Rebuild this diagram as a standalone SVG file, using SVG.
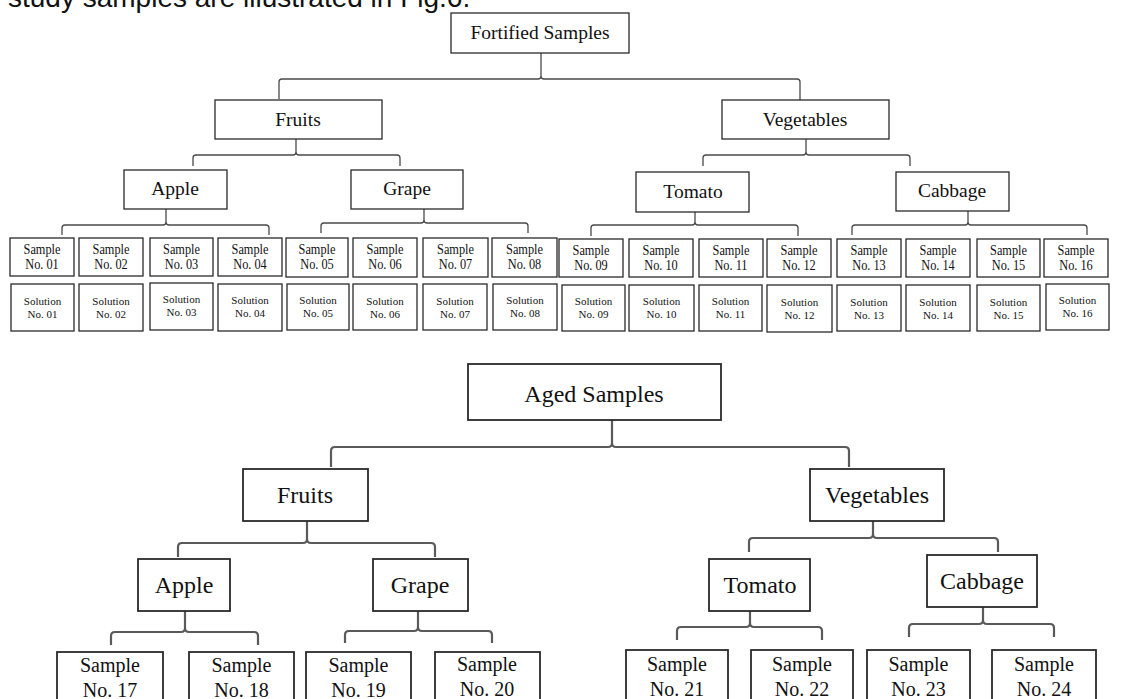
<svg xmlns="http://www.w3.org/2000/svg" width="1136" height="699" viewBox="0 0 1136 699">
<style>
.bg{fill:#fff}
.b1{fill:#fff;stroke:#2a2a2a;stroke-width:1.3}
.b2{fill:#fff;stroke:#2a2a2a;stroke-width:1.8}
.c1{fill:none;stroke:#4a4a4a;stroke-width:1.3}
.c2{fill:none;stroke:#5a5a5a;stroke-width:2.2}
text{font-family:"Liberation Serif","Times New Roman",serif;fill:#111;text-anchor:middle}
.cap{font-family:"Liberation Sans",Arial,sans-serif;font-size:28px;text-anchor:start}
.t1{font-size:19.5px}
.t2{font-size:24px}
.s1{font-size:14.5px}
.so{font-size:11px}
.s2{font-size:20px}
</style>
<rect class="bg" x="0" y="0" width="1136" height="699"/>
<text class="cap" x="8" y="7">study samples are illustrated in Fig.6.</text>

<g id="connectors">
<path class="c1" d="M279 99 V82 Q279 79 282 79 H538 Q541 79 541 76 V53 M541 76 Q541 79 544 79 H797 Q800 79 800 82 V100"/>
<path class="c1" d="M193 166 V158 Q193 155 196 155 H293 Q296 155 296 152 V139 M296 152 Q296 155 299 155 H397 Q400 155 400 158 V166"/>
<path class="c1" d="M703 166 V158 Q703 155 706 155 H803 Q806 155 806 152 V139 M806 152 Q806 155 809 155 H907 Q910 155 910 158 V166"/>
<path class="c1" d="M62 235 V228 Q62 225 65 225 H163 Q166 225 166 222 V209 M166 222 Q166 225 169 225 H266 Q269 225 269 228 V235"/>
<path class="c1" d="M321 233 V226 Q321 223 324 223 H421 Q424 223 424 220 V209 M424 220 Q424 223 427 223 H525 Q528 223 528 226 V233"/>
<path class="c1" d="M591 236 V228 Q591 225 594 225 H692 Q695 225 695 222 V212 M695 222 Q695 225 698 225 H795 Q798 225 798 228 V236"/>
<path class="c1" d="M852 235 V228 Q852 225 855 225 H965 Q968 225 968 222 V211 M968 222 Q968 225 971 225 H1084 Q1087 225 1087 228 V235"/>
<path class="c2" d="M331 467 V451 Q331 447 335 447 H608 Q612 447 612 443 V420 M612 443 Q612 447 616 447 H845 Q849 447 849 451 V467"/>
<path class="c2" d="M178 557 V547 Q178 543 182 543 H303 Q307 543 307 539 V521 M307 539 Q307 543 311 543 H431 Q435 543 435 547 V557"/>
<path class="c2" d="M749 552 V542 Q749 538 753 538 H869 Q873 538 873 534 V521 M873 534 Q873 538 877 538 H994 Q998 538 998 542 V552"/>
<path class="c2" d="M111 645 V636 Q111 632 115 632 H181 Q185 632 185 628 V611 M185 628 Q185 632 189 632 H254 Q258 632 258 636 V645"/>
<path class="c2" d="M345 643 V635 Q345 631 349 631 H414 Q418 631 418 627 V611 M418 627 Q418 631 422 631 H488 Q492 631 492 635 V643"/>
<path class="c2" d="M677 640 V631 Q677 627 681 627 H746 Q750 627 750 623 V611 M750 623 Q750 627 754 627 H818 Q822 627 822 631 V640"/>
<path class="c2" d="M909 637 V628 Q909 624 913 624 H979 Q983 624 983 620 V607 M983 620 Q983 624 987 624 H1050 Q1054 624 1054 628 V637"/>
</g>

<g id="fortified"><rect class="b1" x="451" y="13" width="178" height="40"/><text class="t1" x="540" y="39">Fortified Samples</text></g>
<g id="f-fruits"><rect class="b1" x="215" y="100" width="167" height="39"/><text class="t1" x="298" y="126">Fruits</text></g>
<g id="f-vegetables"><rect class="b1" x="722" y="100" width="167" height="39"/><text class="t1" x="805" y="126">Vegetables</text></g>
<g id="f-apple"><rect class="b1" x="124" y="170" width="103" height="39"/><text class="t1" x="175" y="195">Apple</text></g>
<g id="f-grape"><rect class="b1" x="351" y="170" width="112" height="39"/><text class="t1" x="407" y="195">Grape</text></g>
<g id="f-tomato"><rect class="b1" x="636" y="172" width="113" height="40"/><text class="t1" x="693" y="198">Tomato</text></g>
<g id="f-cabbage"><rect class="b1" x="896" y="172" width="113" height="39"/><text class="t1" x="952" y="197">Cabbage</text></g>

<g id="sample01"><rect class="b1" x="10" y="238" width="64" height="38"/><text class="s1" transform="translate(42 0) scale(0.85 1)"><tspan x="0" y="254">Sample</tspan><tspan x="0" y="269">No. 01</tspan></text></g>
<g id="sample02"><rect class="b1" x="79" y="238" width="64" height="38"/><text class="s1" transform="translate(111 0) scale(0.85 1)"><tspan x="0" y="254">Sample</tspan><tspan x="0" y="269">No. 02</tspan></text></g>
<g id="sample03"><rect class="b1" x="150" y="238" width="63" height="38"/><text class="s1" transform="translate(181.5 0) scale(0.85 1)"><tspan x="0" y="254">Sample</tspan><tspan x="0" y="269">No. 03</tspan></text></g>
<g id="sample04"><rect class="b1" x="218" y="238" width="64" height="38"/><text class="s1" transform="translate(250 0) scale(0.85 1)"><tspan x="0" y="254">Sample</tspan><tspan x="0" y="269">No. 04</tspan></text></g>
<g id="sample05"><rect class="b1" x="286" y="238" width="62" height="39"/><text class="s1" transform="translate(317 0) scale(0.85 1)"><tspan x="0" y="254">Sample</tspan><tspan x="0" y="269">No. 05</tspan></text></g>
<g id="sample06"><rect class="b1" x="353" y="238" width="64" height="39"/><text class="s1" transform="translate(385 0) scale(0.85 1)"><tspan x="0" y="254">Sample</tspan><tspan x="0" y="269">No. 06</tspan></text></g>
<g id="sample07"><rect class="b1" x="423" y="238" width="65" height="39"/><text class="s1" transform="translate(455.5 0) scale(0.85 1)"><tspan x="0" y="254">Sample</tspan><tspan x="0" y="269">No. 07</tspan></text></g>
<g id="sample08"><rect class="b1" x="492" y="238" width="65" height="39"/><text class="s1" transform="translate(524.5 0) scale(0.85 1)"><tspan x="0" y="254">Sample</tspan><tspan x="0" y="269">No. 08</tspan></text></g>
<g id="sample09"><rect class="b1" x="559" y="239" width="64" height="38"/><text class="s1" transform="translate(591 0) scale(0.85 1)"><tspan x="0" y="255">Sample</tspan><tspan x="0" y="270">No. 09</tspan></text></g>
<g id="sample10"><rect class="b1" x="629" y="239" width="64" height="38"/><text class="s1" transform="translate(661 0) scale(0.85 1)"><tspan x="0" y="255">Sample</tspan><tspan x="0" y="270">No. 10</tspan></text></g>
<g id="sample11"><rect class="b1" x="699" y="239" width="64" height="38"/><text class="s1" transform="translate(731 0) scale(0.85 1)"><tspan x="0" y="255">Sample</tspan><tspan x="0" y="270">No. 11</tspan></text></g>
<g id="sample12"><rect class="b1" x="767" y="239" width="64" height="38"/><text class="s1" transform="translate(799 0) scale(0.85 1)"><tspan x="0" y="255">Sample</tspan><tspan x="0" y="270">No. 12</tspan></text></g>
<g id="sample13"><rect class="b1" x="837" y="239" width="64" height="38"/><text class="s1" transform="translate(869 0) scale(0.85 1)"><tspan x="0" y="255">Sample</tspan><tspan x="0" y="270">No. 13</tspan></text></g>
<g id="sample14"><rect class="b1" x="906" y="239" width="64" height="38"/><text class="s1" transform="translate(938 0) scale(0.85 1)"><tspan x="0" y="255">Sample</tspan><tspan x="0" y="270">No. 14</tspan></text></g>
<g id="sample15"><rect class="b1" x="977" y="239" width="63" height="38"/><text class="s1" transform="translate(1008.5 0) scale(0.85 1)"><tspan x="0" y="255">Sample</tspan><tspan x="0" y="270">No. 15</tspan></text></g>
<g id="sample16"><rect class="b1" x="1044" y="239" width="64" height="38"/><text class="s1" transform="translate(1076 0) scale(0.85 1)"><tspan x="0" y="255">Sample</tspan><tspan x="0" y="270">No. 16</tspan></text></g>

<g id="solution01"><rect class="b1" x="11" y="284" width="63" height="47"/><text class="so"><tspan x="42.5" y="305">Solution</tspan><tspan x="42.5" y="318">No. 01</tspan></text></g>
<g id="solution02"><rect class="b1" x="79" y="284" width="64" height="47"/><text class="so"><tspan x="111" y="305">Solution</tspan><tspan x="111" y="318">No. 02</tspan></text></g>
<g id="solution03"><rect class="b1" x="150" y="283" width="63" height="47"/><text class="so"><tspan x="181.5" y="303">Solution</tspan><tspan x="181.5" y="316">No. 03</tspan></text></g>
<g id="solution04"><rect class="b1" x="218" y="284" width="64" height="47"/><text class="so"><tspan x="250" y="304">Solution</tspan><tspan x="250" y="317">No. 04</tspan></text></g>
<g id="solution05"><rect class="b1" x="287" y="284" width="62" height="46"/><text class="so"><tspan x="318" y="304">Solution</tspan><tspan x="318" y="317">No. 05</tspan></text></g>
<g id="solution06"><rect class="b1" x="353" y="284" width="64" height="46"/><text class="so"><tspan x="385" y="305">Solution</tspan><tspan x="385" y="318">No. 06</tspan></text></g>
<g id="solution07"><rect class="b1" x="423" y="284" width="64" height="46"/><text class="so"><tspan x="455" y="305">Solution</tspan><tspan x="455" y="318">No. 07</tspan></text></g>
<g id="solution08"><rect class="b1" x="493" y="284" width="64" height="46"/><text class="so"><tspan x="525" y="304">Solution</tspan><tspan x="525" y="317">No. 08</tspan></text></g>
<g id="solution09"><rect class="b1" x="562" y="285" width="63" height="46"/><text class="so"><tspan x="593.5" y="305">Solution</tspan><tspan x="593.5" y="318">No. 09</tspan></text></g>
<g id="solution10"><rect class="b1" x="629" y="285" width="65" height="46"/><text class="so"><tspan x="661.5" y="305">Solution</tspan><tspan x="661.5" y="318">No. 10</tspan></text></g>
<g id="solution11"><rect class="b1" x="699" y="285" width="63" height="46"/><text class="so"><tspan x="730.5" y="305">Solution</tspan><tspan x="730.5" y="318">No. 11</tspan></text></g>
<g id="solution12"><rect class="b1" x="767" y="285" width="65" height="47"/><text class="so"><tspan x="799.5" y="306">Solution</tspan><tspan x="799.5" y="319">No. 12</tspan></text></g>
<g id="solution13"><rect class="b1" x="837" y="285" width="64" height="46"/><text class="so"><tspan x="869" y="306">Solution</tspan><tspan x="869" y="319">No. 13</tspan></text></g>
<g id="solution14"><rect class="b1" x="906" y="285" width="64" height="46"/><text class="so"><tspan x="938" y="306">Solution</tspan><tspan x="938" y="319">No. 14</tspan></text></g>
<g id="solution15"><rect class="b1" x="977" y="285" width="63" height="46"/><text class="so"><tspan x="1008.5" y="306">Solution</tspan><tspan x="1008.5" y="319">No. 15</tspan></text></g>
<g id="solution16"><rect class="b1" x="1046" y="284" width="63" height="46"/><text class="so"><tspan x="1077.5" y="304">Solution</tspan><tspan x="1077.5" y="317">No. 16</tspan></text></g>

<g id="aged"><rect class="b2" x="468" y="364" width="253" height="56"/><text class="t2" x="594" y="402">Aged Samples</text></g>
<g id="a-fruits"><rect class="b2" x="243" y="469" width="125" height="52"/><text class="t2" x="305" y="503">Fruits</text></g>
<g id="a-vegetables"><rect class="b2" x="810" y="469" width="134" height="52"/><text class="t2" x="877" y="503">Vegetables</text></g>
<g id="a-apple"><rect class="b2" x="138" y="559" width="92" height="52"/><text class="t2" x="184" y="593">Apple</text></g>
<g id="a-grape"><rect class="b2" x="373" y="559" width="95" height="52"/><text class="t2" x="420" y="593">Grape</text></g>
<g id="a-tomato"><rect class="b2" x="709" y="559" width="101" height="52"/><text class="t2" x="760" y="593">Tomato</text></g>
<g id="a-cabbage"><rect class="b2" x="927" y="555" width="110" height="52"/><text class="t2" x="982" y="589">Cabbage</text></g>

<g id="sample17"><rect class="b2" x="57" y="652" width="106" height="70"/><text class="s2"><tspan x="110" y="672">Sample</tspan><tspan x="110" y="697">No. 17</tspan></text></g>
<g id="sample18"><rect class="b2" x="189" y="652" width="105" height="70"/><text class="s2"><tspan x="241.5" y="672">Sample</tspan><tspan x="241.5" y="697">No. 18</tspan></text></g>
<g id="sample19"><rect class="b2" x="306" y="652" width="105" height="70"/><text class="s2"><tspan x="358.5" y="672">Sample</tspan><tspan x="358.5" y="697">No. 19</tspan></text></g>
<g id="sample20"><rect class="b2" x="435" y="652" width="105" height="70"/><text class="s2"><tspan x="487" y="671">Sample</tspan><tspan x="487" y="696">No. 20</tspan></text></g>
<g id="sample21"><rect class="b2" x="626" y="650" width="102" height="72"/><text class="s2"><tspan x="677" y="671">Sample</tspan><tspan x="677" y="696">No. 21</tspan></text></g>
<g id="sample22"><rect class="b2" x="751" y="650" width="102" height="72"/><text class="s2"><tspan x="802" y="671">Sample</tspan><tspan x="802" y="696">No. 22</tspan></text></g>
<g id="sample23"><rect class="b2" x="867" y="650" width="103" height="72"/><text class="s2"><tspan x="918.5" y="671">Sample</tspan><tspan x="918.5" y="696">No. 23</tspan></text></g>
<g id="sample24"><rect class="b2" x="992" y="650" width="104" height="72"/><text class="s2"><tspan x="1044" y="671">Sample</tspan><tspan x="1044" y="696">No. 24</tspan></text></g>
</svg>
